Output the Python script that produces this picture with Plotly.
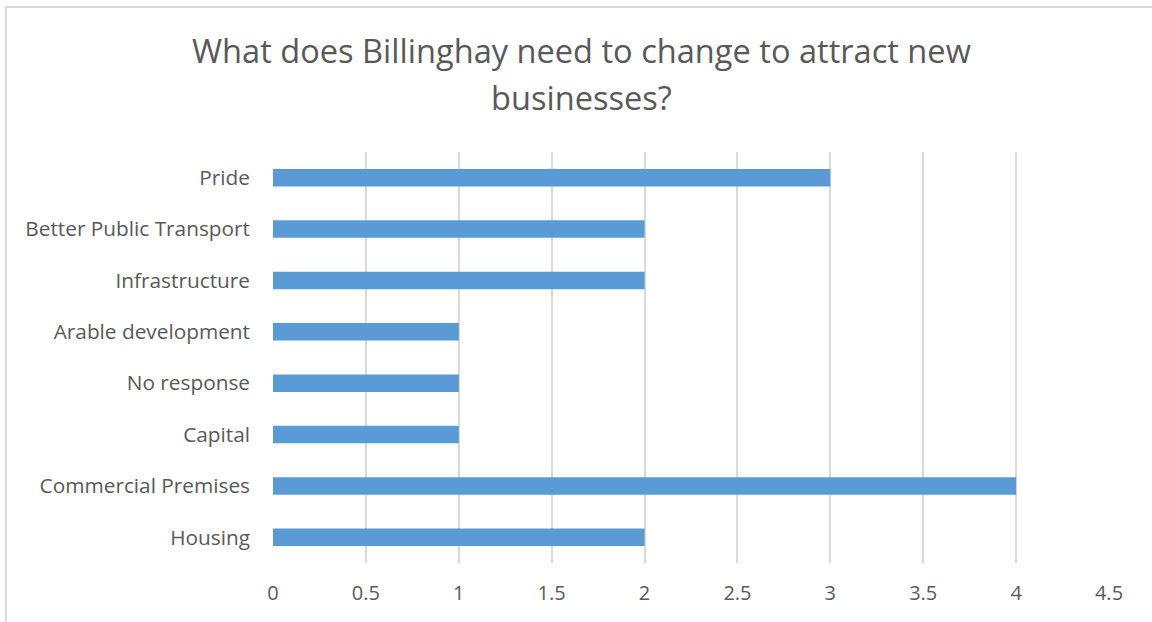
import plotly.graph_objects as go

# Survey responses, listed bottom to top
categories = ["Housing", "Commercial Premises", "Capital", "No response",
              "Arable development", "Infrastructure", "Better Public Transport", "Pride"]
counts = [2, 4, 1, 1, 1, 2, 2, 3]
tick_vals = [0, 0.5, 1, 1.5, 2, 2.5, 3, 3.5, 4, 4.5]
tick_text = ["0", "0.5", "1", "1.5", "2", "2.5", "3", "3.5", "4", "4.5"]
title_lines = ["What does Billinghay need to change to attract new", "businesses?"]

W, H = 1152, 622
L, R, T, B = 273, 43, 152, 59
pw, ph = W - L - R, H - T - B

def px_x(x):
    return (x - L) / pw

def px_y(y):
    return (H - B - y) / ph

text_color = "#595959"
font_family = "Open Sans, Noto Sans, sans-serif"

fig = go.Figure(go.Bar(
    x=counts,
    y=categories,
    orientation="h",
    marker=dict(color="#5b9bd5", line=dict(width=0)),
    width=0.34,
))

fig.update_layout(
    width=W, height=H,
    margin=dict(l=L, r=R, t=T, b=B, pad=0),
    plot_bgcolor="white", paper_bgcolor="white",
    showlegend=False,
    bargap=0.66,
    font=dict(family=font_family, color=text_color, size=20),
    xaxis=dict(
        range=[0, 4.5], tickvals=tick_vals, ticktext=tick_text,
        showgrid=True, gridcolor="#d9d9d9", gridwidth=2,
        zeroline=False, showline=False, ticks="",
        tickfont=dict(size=20, color=text_color),
        ticklabelstandoff=16, fixedrange=True,
    ),
    yaxis=dict(
        categoryorder="array", categoryarray=categories,
        showgrid=False, zeroline=False, showline=False, ticks="",
        tickfont=dict(size=20.8, color=text_color),
        ticklabelstandoff=22, fixedrange=True,
    ),
    shapes=[dict(
        type="rect", xref="paper", yref="paper",
        x0=px_x(6), x1=px_x(W + 40), y0=px_y(H + 40), y1=px_y(7),
        line=dict(color="#d9d9d9", width=2), layer="below",
    )],
    annotations=[
        dict(text=title_lines[0], xref="paper", yref="paper",
             x=px_x(581), y=px_y(50), xanchor="center", yanchor="middle",
             showarrow=False, font=dict(size=32.6, color=text_color, family=font_family)),
        dict(text=title_lines[1], xref="paper", yref="paper",
             x=px_x(581), y=px_y(97), xanchor="center", yanchor="middle",
             showarrow=False, font=dict(size=32.6, color=text_color, family=font_family)),
    ],
)

fig.write_html("out.html")
